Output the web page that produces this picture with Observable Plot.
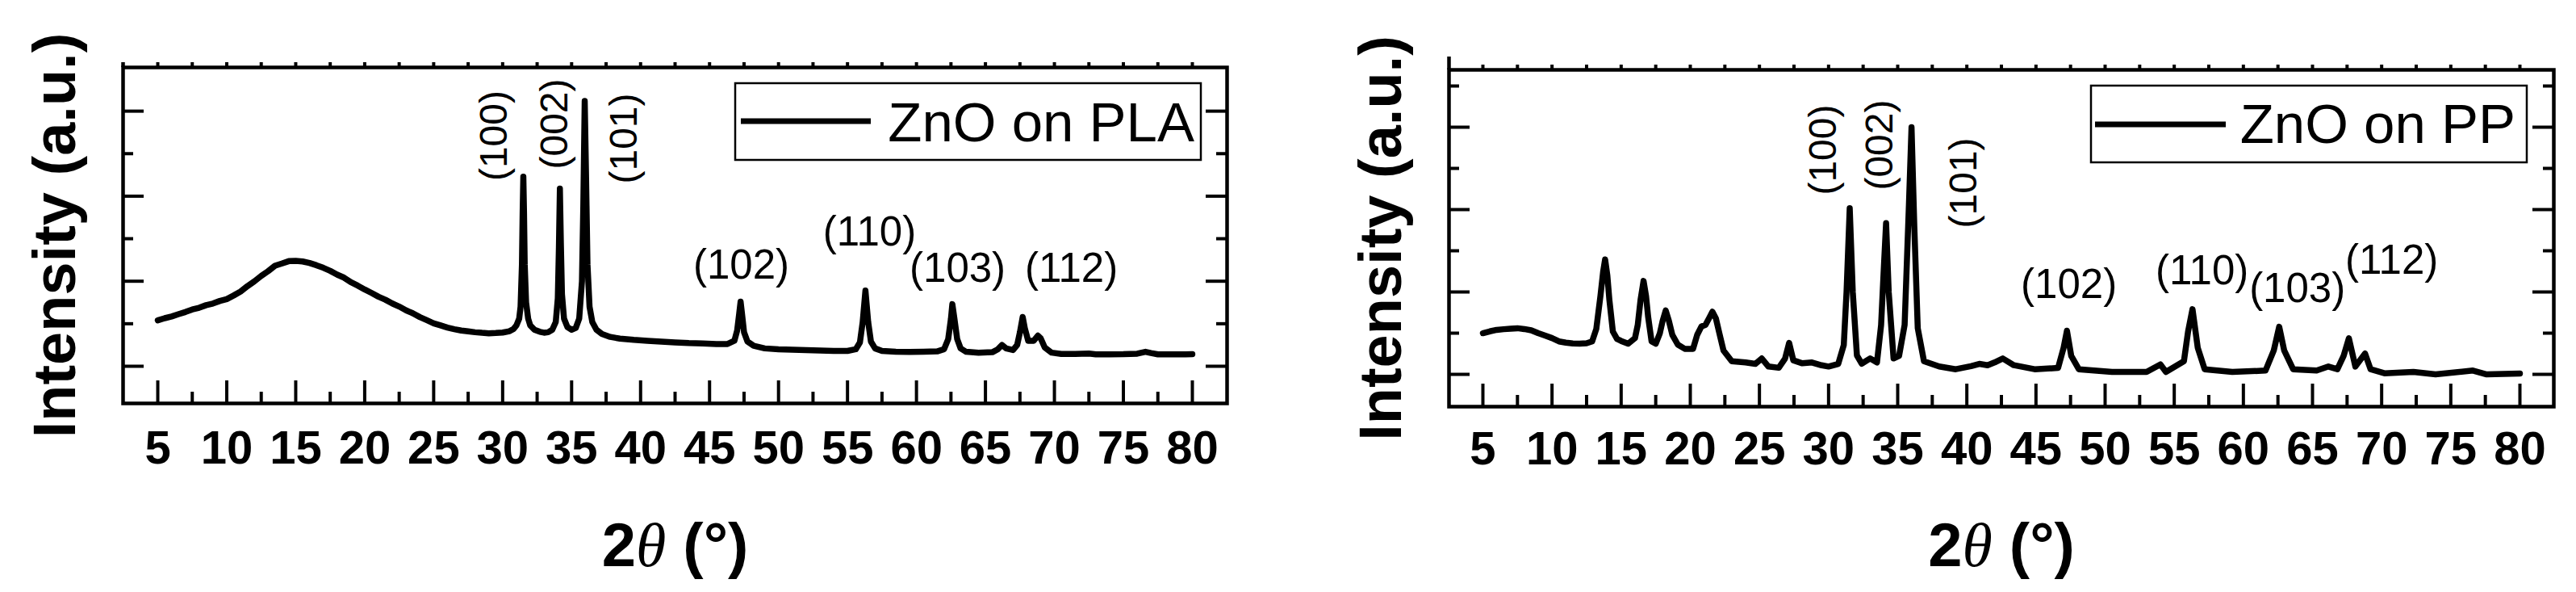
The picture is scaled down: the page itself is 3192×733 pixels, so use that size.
<!DOCTYPE html>
<html><head><meta charset="utf-8">
<script src="https://cdn.jsdelivr.net/npm/d3@7"></script>
<script src="https://cdn.jsdelivr.net/npm/@observablehq/plot@0.6"></script>
<style>
body{margin:0;background:#fff;}
#wrap{display:flex;width:3192px;height:733px;background:#fff;}
svg{display:block}
</style></head><body><div id="wrap"></div>
<script>
const FONT = "'Liberation Sans', Arial, Helvetica, sans-serif";

// ---- tick values ----
const xMajor = [5,10,15,20,25,30,35,40,45,50,55,60,65,70,75,80];
const xMinor = [7.5,12.5,17.5,22.5,27.5,32.5,37.5,42.5,47.5,52.5,57.5,62.5,67.5,72.5,77.5];
const yMajorPLA = [0,1000,2000,3000];
const yMinorPLA = [500,1500,2500];
const yMajorPP = [0,1000,2000,3000];
const yMinorPP = [500,1500,2500,3500];

const yTitle = "Intensity (a.u.)";
const xTitle = "2θ (°)";
const legendPLA = "ZnO on PLA";
const legendPP = "ZnO on PP";

// ---- ZnO on PLA ----
const thetaPLA = [5.0,5.5,6.0,6.5,7.0,7.5,8.0,8.5,9.0,9.5,10.0,10.5,11.0,11.5,12.0,12.5,13.0,13.5,14.0,14.5,15.0,15.5,16.0,16.5,17.0,17.5,18.0,18.5,19.0,19.5,20.0,20.5,21.0,21.5,22.0,22.5,23.0,23.5,24.0,24.5,25.0,25.5,26.0,26.5,27.0,27.5,28.0,28.5,29.0,29.5,30.0,30.5,30.8,31.0,31.2,31.3,31.4,31.45,31.5,31.55,31.6,31.7,31.85,32.0,32.3,32.7,33.0,33.3,33.6,33.85,34.0,34.08,34.15,34.22,34.3,34.45,34.7,35.0,35.3,35.55,35.75,35.85,35.95,36.05,36.15,36.3,36.5,36.8,37.2,37.8,38.5,39.5,40.5,41.5,42.5,43.5,44.5,45.5,46.3,46.8,47.0,47.15,47.25,47.35,47.5,47.75,48.2,49.0,50.0,51.0,52.0,53.0,54.0,55.0,55.6,55.9,56.1,56.3,56.5,56.7,57.0,57.5,58.5,59.5,60.5,61.5,62.0,62.3,62.5,62.6,62.75,62.95,63.2,63.6,64.5,65.5,65.9,66.2,66.5,67.0,67.3,67.5,67.7,67.85,68.1,68.5,68.8,69.0,69.3,69.8,70.5,71.5,72.5,73.0,74.0,75.0,76.0,76.6,77.0,77.5,78.5,79.5,80.0];
const intensityPLA = [540,565,585,612,638,668,688,718,738,768,790,832,878,942,998,1062,1118,1182,1208,1236,1240,1232,1214,1188,1158,1122,1078,1042,988,948,903,862,818,782,738,702,658,622,578,542,505,480,455,436,420,410,400,393,388,391,396,412,440,480,560,700,1200,1800,2230,1800,1200,750,560,480,430,405,395,400,430,520,800,1400,2090,1450,850,560,460,430,450,560,1000,1900,3120,2200,1200,700,520,430,380,345,325,310,300,290,280,272,268,262,262,300,420,620,760,620,400,290,240,210,200,195,190,185,180,180,200,280,520,890,520,290,210,180,170,168,170,175,200,320,560,730,560,320,210,170,160,165,200,250,210,190,250,400,580,450,300,300,360,330,220,160,145,145,150,140,140,142,148,170,155,140,140,140,142];

// ---- ZnO on PP ----
const thetaPP = [5.0,5.5,6.0,6.5,7.0,7.5,8.0,8.5,9.0,9.5,10.0,10.5,11.0,11.5,12.0,12.5,12.9,13.2,13.5,13.7,13.84,14.0,14.15,14.4,14.7,15.0,15.5,16.0,16.2,16.4,16.62,16.8,16.95,17.2,17.5,17.8,18.0,18.22,18.45,18.7,19.1,19.6,20.2,20.5,20.8,21.1,21.35,21.6,21.85,22.1,22.4,23.0,24.0,24.7,25.17,25.65,26.4,26.85,27.15,27.45,28.1,28.8,29.5,30.0,30.7,31.1,31.3,31.53,31.75,32.05,32.4,33.0,33.5,33.8,34.0,34.16,34.35,34.7,35.1,35.5,35.8,36.0,36.2,36.45,36.9,38.0,39.2,40.3,40.9,41.5,42.0,42.6,43.4,44.9,46.6,47.0,47.24,47.55,48.1,50.5,53.0,54.0,54.4,55.7,56.0,56.32,56.7,57.2,59.2,61.6,62.2,62.59,62.95,63.6,65.3,66.15,66.8,67.25,67.63,68.1,68.8,69.2,70.2,72.3,73.9,76.6,77.6,80.0];
const intensityPP = [500,522,540,548,555,560,550,535,500,470,440,400,385,375,372,378,400,550,950,1250,1395,1200,900,520,430,405,372,440,600,900,1134,950,700,400,372,500,650,775,650,480,360,310,310,480,580,600,680,760,680,500,290,160,144,127,193,95,80,190,382,170,134,144,110,95,127,356,1000,2016,1000,230,130,193,144,600,1300,1836,1000,193,225,600,2000,3000,1800,560,160,95,62,100,127,110,144,193,111,62,78,323,530,225,62,29,29,121,29,160,520,791,323,62,29,46,291,578,291,62,46,95,62,225,438,95,252,62,13,29,0,46,0,10];

// ---- peak annotations (Miller indices) ----
const rotHKL = ["(100)","(002)","(101)"];
const rotThetaPLA = [29.43,33.81,38.81];
const rotIntPLA = [2711,2849,2678];
const flatHKL = ["(102)","(110)","(103)","(112)"];
const flatThetaPLA = [47.30,56.60,62.98,71.23];
const flatIntPLA = [1026,1424,997,988];
const rotThetaPP = [29.64,33.72,39.79];
const rotIntPP = [2725,2784,2324];
const flatThetaPP = [47.38,57.01,63.90,70.73];
const flatIntPP = [931,1091,882,1225];

function panel(cfg) {
  const W = cfg.width, H = 733;
  const plotW = W - cfg.ml - cfg.mr, plotH = H - cfg.mt - cfg.mb;
  const rows = cfg.theta.map((t, i) => ({t, v: cfg.intensity[i]}));
  const rot = rotHKL.map((l, i) => ({l, t: cfg.rotTheta[i], v: cfg.rotInt[i]}));
  const flat = flatHKL.map((l, i) => ({l, t: cfg.flatTheta[i], v: cfg.flatInt[i]}));
  const blk = {stroke: "#000", strokeWidth: 4};
  const marks = [
    Plot.line(rows, {x: "t", y: "v", stroke: "#000", strokeWidth: 7.5, strokeLinejoin: "round", strokeLinecap: "round"}),
    Plot.tickX(xMajor, {...blk, insetTop: plotH - 28}),
    Plot.tickX(xMinor, {...blk, insetTop: plotH - 14}),
    Plot.tickX(xMajor.concat(xMinor), {...blk, insetTop: -6, insetBottom: plotH}),
    Plot.tickY(cfg.yMajor, {...blk, insetRight: plotW - 26}),
    Plot.tickY(cfg.yMinor, {...blk, insetRight: plotW - 13}),
    Plot.tickY(cfg.yMajor, {...blk, insetLeft: plotW - 26}),
    Plot.tickY(cfg.yMinor, {...blk, insetLeft: plotW - 13}),
    Plot.tickX([cfg.xDomain[0]], {stroke: "#000", strokeWidth: 4.5, insetTop: -cfg.spineExt, insetBottom: plotH}),
    Plot.frame({stroke: "#000", strokeWidth: 4.5}),
    Plot.axisX(xMajor, {tickSize: 0, tickPadding: cfg.tickPad, fontSize: 58, fontWeight: "bold", fill: "#000", label: null}),
    Plot.text([yTitle], {frameAnchor: "left", rotate: -90, dx: -60, lineAnchor: "bottom", textAnchor: "middle", fontSize: 74, fontWeight: "bold", fill: "#000"}),
    Plot.text([xTitle], {frameAnchor: "bottom", dy: cfg.titleDy, lineAnchor: "bottom", textAnchor: "middle", fontSize: 76, fontWeight: "bold", fill: "#000", className: "xtitle"}),
    Plot.text(rot, {x: "t", y: "v", text: "l", rotate: -90, fontSize: 48, lineAnchor: "middle", fill: "#000"}),
    Plot.text(flat, {x: "t", y: "v", text: "l", fontSize: 51, lineAnchor: "bottom", fill: "#000"})
  ];
  const svg = Plot.plot({
    width: W, height: H,
    marginLeft: cfg.ml, marginRight: cfg.mr, marginTop: cfg.mt, marginBottom: cfg.mb,
    style: {background: "#fff", color: "#000", fontFamily: FONT, overflow: "visible"},
    x: {domain: cfg.xDomain},
    y: {domain: cfg.yDomain, axis: null},
    marks
  });
  // x title with italic theta
  const t = svg.querySelector(".xtitle text");
  if (t) {
    const sel = d3.select(t).text(null);
    sel.append("tspan").text("2");
    sel.append("tspan").attr("font-style", "italic").attr("font-weight", "normal")
      .attr("font-family", "'Liberation Serif', 'DejaVu Serif', serif").text("θ");
    sel.append("tspan").text(" (°)");
  }
  // legend
  const L = cfg.legend;
  const g = d3.select(svg).append("g");
  g.append("rect").attr("x", L.x).attr("y", L.y).attr("width", L.w).attr("height", L.h)
    .attr("fill", "#fff").attr("stroke", "#000").attr("stroke-width", 2.5);
  g.append("line").attr("x1", L.lx1).attr("x2", L.lx2).attr("y1", L.ly).attr("y2", L.ly)
    .attr("stroke", "#000").attr("stroke-width", 7);
  g.append("text").attr("x", L.tx).attr("y", L.ty).attr("text-anchor", "end")
    .attr("font-family", FONT).attr("font-size", 69).attr("fill", "#000").text(L.text);
  return svg;
}

const wrap = document.getElementById("wrap");
wrap.appendChild(panel({
  width: 1596, ml: 152, mr: 76, mt: 83, mb: 234,
  xDomain: [2.484, 82.516], yDomain: [-437, 3514],
  yMajor: yMajorPLA, yMinor: yMinorPLA,
  theta: thetaPLA, intensity: intensityPLA,
  rotTheta: rotThetaPLA, rotInt: rotIntPLA, flatTheta: flatThetaPLA, flatInt: flatIntPLA,
  tickPad: 33, titleDy: 201, spineExt: 6,
  legend: {x: 911, y: 103, w: 577, h: 95, lx1: 918, lx2: 1079, ly: 150, tx: 1480, ty: 175, text: legendPLA}
}));
wrap.appendChild(panel({
  width: 1596, ml: 199, mr: 28, mt: 86, mb: 230,
  xDomain: [2.549, 82.451], yDomain: [-392, 3696],
  yMajor: yMajorPP, yMinor: yMinorPP,
  theta: thetaPP, intensity: intensityPP,
  rotTheta: rotThetaPP, rotInt: rotIntPP, flatTheta: flatThetaPP, flatInt: flatIntPP,
  tickPad: 30, titleDy: 197, spineExt: 16,
  legend: {x: 995, y: 106, w: 540, h: 95, lx1: 1000, lx2: 1162, ly: 154, tx: 1521, ty: 177, text: legendPP}
}));
</script></body></html>
